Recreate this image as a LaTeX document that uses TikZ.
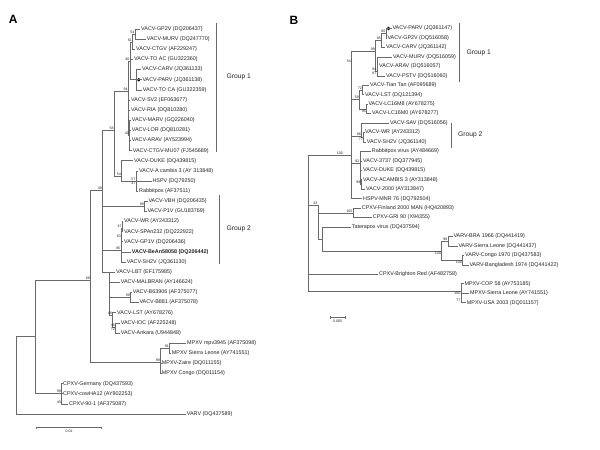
\documentclass[tikz,border=0pt]{standalone}
\usepackage{fontspec}
\setmainfont{Liberation Sans}
\definecolor{branchgray}{HTML}{6A6A6A}
\definecolor{textgray}{HTML}{222222}

\begin{document}
\begin{tikzpicture}[x=1pt, y=-1pt,
  leaf/.style={anchor=west, inner sep=0.6pt, text=textgray, font=\fontsize{5.4}{6}\selectfont},
  boot/.style={anchor=south east, inner sep=0.5pt, text=textgray, font=\fontsize{3.6}{4}\selectfont},
  bootlow/.style={boot, anchor=north east},
  brn/.style={draw=branchgray, line width=0.6pt},
  grpbar/.style={draw=branchgray, line width=0.9pt},
  grp/.style={anchor=west, inner sep=0pt, text=textgray, font=\fontsize{6.7}{8}\selectfont},
  panel/.style={inner sep=0pt, font=\fontsize{12}{14}\selectfont\bfseries}
]
\useasboundingbox (0,0) rectangle (600,450);

\node[panel] (aTitle) at (13.3,19.2) {A};
\node[panel] (bTitle) at (294,20) {B};

% panel A, leaves
\node[leaf] (aGP2V) at (140.4,29.0) {VACV-GP2V (DQ206437)};
\node[leaf] (aMURV) at (146.1,39.1) {VACV-MURV (DQ247770)};
\node[leaf] (aCTGV) at (135.4,49.3) {VACV-CTGV (AF229247)};
\node[leaf] (aTOAC) at (133.4,59.4) {VACV-TO AC (GU322360)};
\node[leaf] (aCARV) at (141.4,69.5) {VACV-CARV (JQ361133)};
\node[leaf] (aPARV) at (141.7,79.7) {VACV-PARV (JQ361138)};
\node[leaf] (aTOCA) at (142.1,89.8) {VACV-TO CA (GU322359)};
\node[leaf] (aSV2) at (130.4,99.9) {VACV-SV2 (EF063677)};
\node[leaf] (aRIA) at (130.4,110.0) {VACV-RIA (DQ810280)};
\node[leaf] (aMARV) at (131.1,120.2) {VACV-MARV (GQ226040)};
\node[leaf] (aLOR) at (131.1,130.3) {VACV-LOR (DQ810281)};
\node[leaf] (aARAV) at (131.1,140.4) {VACV-ARAV (AY523994)};
\node[leaf] (aCTGVMU) at (132.1,150.6) {VACV-CTGV-MU07 (FJ545689)};
\node[leaf] (aDUKE) at (133.4,160.7) {VACV-DUKE (DQ439815)};
\node[leaf] (aAcam) at (138.4,170.8) {VACV-A cambis 3 (AY 313848)};
\node[leaf] (aHSPV) at (151.7,180.9) {HSPV (DQ79250)};
\node[leaf] (aRabbit) at (138.4,191.1) {Rabbitpox (AF37511)};
\node[leaf] (aVBH) at (147.7,201.2) {VACV-VBH (DQ206435)};
\node[leaf] (aP1V) at (146.7,211.3) {VACV-P1V (GU183769)};
\node[leaf] (aWR) at (123.4,221.5) {VACV-WR (AY243312)};
\node[leaf] (aSPAn) at (123.4,231.6) {VACV-SPAn232 (DQ222922)};
\node[leaf] (aGP1V) at (123.4,241.7) {VACV-GP1V (DQ206436)};
\node[leaf, font=\fontsize{5.4}{6}\selectfont\bfseries] (aBeAn) at (131.1,251.9) {VACV-BeAn58058 (DQ206442)};
\node[leaf] (aSH2V) at (126.1,262.0) {VACV-SH2V (JQ361130)};
\node[leaf] (aLBT) at (115.4,272.1) {VACV-LBT (EF175985)};
\node[leaf] (aMALB) at (120.1,282.3) {VACV-MALBRAN (AY146624)};
\node[leaf] (aB639) at (132.1,292.4) {VACV-B63906 (AF375077)};
\node[leaf] (aB881) at (138.7,302.5) {VACV-B881 (AF375078)};
\node[leaf] (aLST) at (116.4,312.6) {VACV-LST (AY678276)};
\node[leaf] (aIOC) at (120.1,322.8) {VACV-IOC (AF225248)};
\node[leaf] (aAnk) at (120.1,332.9) {VACV-Ankara (U944848)};
\node[leaf] (aMpv) at (186.4,343.0) {MPXV mpv3945 (AF375098)};
\node[leaf] (aMSL) at (171.1,353.2) {MPXV Sierra Leone (AY741551)};
\node[leaf] (aZaire) at (161.1,363.3) {MPXV-Zaire (DQ011155)};
\node[leaf] (aCongo) at (161.1,373.4) {MPXV Congo (DQ011154)};
\node[leaf] (aGer) at (62.4,383.6) {CPXV-Germany (DQ437593)};
\node[leaf] (aCow) at (62.4,393.7) {CPXV-cowHA12 (AY902253)};
\node[leaf] (a901) at (68.4,403.8) {CPXV-90-1 (AF375087)};
\node[leaf] (aVARV) at (186.1,413.9) {VARV (DQ437589)};
\fill[black] ([xshift=-3pt]aPARV.west) circle (1.9pt);

% panel A, inner nodes
\coordinate (aN54) at (135,34);
\coordinate (aN61) at (132.5,42);
\coordinate (aN40) at (130,61);
\coordinate (aNca) at (136,79.7);
\coordinate (aN94) at (128.3,91);
\coordinate (aN40b) at (129.5,135.3);
\coordinate (aN58) at (114.3,130);
\coordinate (aN54b) at (121.5,176);
\coordinate (aN57) at (136,181);
\coordinate (aN49) at (102.5,190);
\coordinate (aN99v) at (144.5,206.2);
\coordinate (aN95) at (120.8,250);
\coordinate (aN63) at (121.5,238);
\coordinate (aN47) at (122.3,228);
\coordinate (aNlow) at (109.5,272);
\coordinate (aN99b) at (130.5,297.4);
\coordinate (aN48) at (112.5,315);
\coordinate (aN46) at (115.5,327);
\coordinate (aN91) at (169.5,348);
\coordinate (aNmp) at (160.5,362);
\coordinate (aX1) at (90.7,280);
\coordinate (aNC) at (61.5,393);
\coordinate (aN40c) at (61.5,403.8);
\coordinate (aNI) at (35.7,336);
\coordinate (aRoot) at (16,336);

\draw[brn] (aN54) |- (aGP2V) (aN54) |- (aMURV);
\draw[brn] (aN61) |- (aN54) (aN61) |- (aCTGV);
\draw[brn] (aN40) |- (aN61) (aN40) |- (aTOAC) (aN40) |- (aNca);
\draw[brn] (aNca) |- (aCARV) (aNca) |- (aPARV) (aNca) |- (aTOCA);
\draw[brn] (aN94) |- (aN40) (aN94) |- (aSV2) (aN94) |- (aRIA) (aN94) |- (aN40b);
\draw[brn] (aN40b) |- (aMARV) (aN40b) |- (aLOR) (aN40b) |- (aARAV) (aN40b) |- (aCTGVMU);
\draw[brn] (aN58) |- (aN94) (aN58) |- (aN54b);
\draw[brn] (aN54b) |- (aDUKE) (aN54b) |- (aN57);
\draw[brn] (aN57) |- (aAcam) (aN57) |- (aHSPV) (aN57) |- (aRabbit);
\draw[brn] (aN49) |- (aN58) (aN49) |- (aN99v) (aN49) |- (aN95) (aN49) |- (aNlow);
\draw[brn] (aN99v) |- (aVBH) (aN99v) |- (aP1V);
\draw[brn] (aN95) |- (aN63) (aN95) |- (aBeAn) (aN95) |- (aSH2V);
\draw[brn] (aN63) |- (aN47) (aN63) |- (aGP1V);
\draw[brn] (aN47) |- (aWR) (aN47) |- (aSPAn);
\draw[brn] (aNlow) |- (aLBT) (aNlow) |- (aMALB) (aNlow) |- (aN99b) (aNlow) |- (aN48);
\draw[brn] (aN99b) |- (aB639) (aN99b) |- (aB881);
\draw[brn] (aN48) |- (aLST) (aN48) |- (aN46);
\draw[brn] (aN46) |- (aIOC) (aN46) |- (aAnk);
\draw[brn] (aN91) |- (aMpv) (aN91) |- (aMSL);
\draw[brn] (aNmp) |- (aN91) (aNmp) |- (aZaire) (aNmp) |- (aCongo);
\draw[brn] (aX1) |- (aN49) (aX1) |- (aNmp);
\draw[brn] (aNC) |- (aGer) (aNC) |- (aCow) (aNC) |- (a901);
\draw[brn] (aNI) |- (aX1) (aNI) |- (aNC);
\draw[brn] (aRoot) |- (aNI) (aRoot) |- (aVARV);

\node[boot] (aL54) at (aN54) {54};
\node[boot] (aL61) at (aN61) {61};
\node[boot] (aL40) at (aN40) {40};
\node[boot] (aL94) at (aN94) {94};
\node[boot] (aL40b) at (aN40b) {40};
\node[boot] (aL58) at (aN58) {58};
\node[boot] (aL54b) at (aN54b) {54};
\node[boot] (aL57) at (aN57) {57};
\node[bootlow] (aL47r) at (aN57) {47};
\node[boot] (aL49) at (aN49) {49};
\node[boot] (aL99v) at (aN99v) {99};
\node[boot] (aL95) at (aN95) {95};
\node[boot] (aL63) at (aN63) {63};
\node[boot] (aL47) at (aN47) {47};
\node[boot] (aL99b) at (aN99b) {99};
\node[boot] (aL48) at (aN48) {48};
\node[boot] (aL46) at (aN46) {46};
\node[bootlow] (aL72) at (aN46) {72};
\node[boot] (aL91) at (aN91) {91};
\node[boot] (aL99m) at (aNmp) {99};
\node[boot] (aL69) at (aX1) {69};
\node[boot] (aL99c) at (aNC) {99};
\node[boot] (aL40c) at (aN40c) {40};

\draw[grpbar] (216,23.3) -- (216,151.7);
\node[grp] (aGroupOne) at (226.5,77) {Group 1};
\draw[grpbar] (219.3,195) -- (219.3,263.5);
\node[grp] (aGroupTwo) at (226.5,229) {Group 2};

\coordinate (aS1) at (36.7,427.7);
\coordinate (aS2) at (101.7,427.7);
\draw[brn] (aS1) -- (aS2) ([yshift=1.2pt]aS1) -- ([yshift=-1.2pt]aS1) ([yshift=1.2pt]aS2) -- ([yshift=-1.2pt]aS2);
\node[boot, anchor=north] (aScale) at (69.2,429.5) {0.01};

% panel B, leaves
\node[leaf] (bPARV) at (391.7,28.5) {VACV-PARV (JQ361147)};
\node[leaf] (bGP2V) at (386.7,38.0) {VACV-GP2V (DQ516058)};
\node[leaf] (bCARV) at (385.4,47.4) {VACV-CARV (JQ361142)};
\node[leaf] (bMURV) at (392.4,56.9) {VACV-MURV (DQ516059)};
\node[leaf] (bARAV) at (378.4,66.3) {VACV-ARAV (DQ516057)};
\node[leaf] (bPSTV) at (385.4,75.8) {VACV-PSTV (DQ516060)};
\node[leaf] (bTian) at (369.4,85.2) {VACV-Tian Tan (AF095689)};
\node[leaf] (bLST) at (364.4,94.7) {VACV-LST (DQ121394)};
\node[leaf] (bLC8) at (367.7,104.1) {VACV-LC16M8 (AY678275)};
\node[leaf] (bLC0) at (371.4,113.6) {VACV-LC16M0 (AY678277)};
\node[leaf] (bSAV) at (389.4,123.0) {VACV-SAV (DQ516056)};
\node[leaf] (bWR) at (364.4,132.5) {VACV-WR (AY243312)};
\node[leaf] (bSH2V) at (366.1,141.9) {VACV-SH2V (JQ361140)};
\node[leaf] (bRabbit) at (371.1,151.4) {Rabbitpox virus (AY484669)};
\node[leaf] (b3737) at (362.4,160.8) {VACV-3737 (DQ377945)};
\node[leaf] (bDUKE) at (362.4,170.3) {VACV-DUKE (DQ439815)};
\node[leaf] (bAcam) at (362.4,179.7) {VACV-ACAMBIS 3 (AY313848)};
\node[leaf] (b2000) at (365.4,189.2) {VACV-2000 (AY313847)};
\node[leaf] (bHSPV) at (362.4,198.6) {HSPV-MNR 76 (DQ792504)};
\node[leaf] (bFin) at (361.1,208.1) {CPXV-Finland 2000 MAN (HQ420893)};
\node[leaf] (bGRI) at (372.1,217.5) {CPXV-GRI 90 (X94355)};
\node[leaf] (bTat) at (351.1,227.0) {Taterapox virus (DQ437594)};
\node[leaf] (bBRA) at (452.7,236.4) {VARV-BRA 1966 (DQ441419)};
\node[leaf] (bVSL) at (457.7,245.9) {VARV-Sierra Leone (DQ441437)};
\node[leaf] (bCon) at (464.4,255.3) {VARV-Congo 1970 (DQ437583)};
\node[leaf] (bBang) at (468.7,264.8) {VARV-Bangladesh 1974 (DQ441422)};
\node[leaf] (bBrig) at (378.4,274.2) {CPXV-Brighton Red (AF482758)};
\node[leaf] (bCOP) at (463.7,283.7) {MPXV-COP 58 (AY753185)};
\node[leaf] (bMSL) at (469.4,293.1) {MPXV-Sierra Leone (AY741551)};
\node[leaf] (bUSA) at (466.1,302.6) {MPXV-USA 2003 (DQ011157)};
\fill[black] ([xshift=-3.2pt]bPARV.west) circle (1.9pt);

% panel B, inner nodes
\coordinate (bN60) at (386,33.2);
\coordinate (bN85) at (381.5,40.3);
\coordinate (bN99) at (375.5,51);
\coordinate (bN84) at (377,71);
\coordinate (bN54) at (351.5,63);
\coordinate (bN72) at (362.5,89.9);
\coordinate (bN95) at (366.5,108.8);
\coordinate (bN59) at (359.5,99);
\coordinate (bN86) at (361.5,136);
\coordinate (bN77) at (363.5,137.2);
\coordinate (bN82) at (360,163);
\coordinate (bN99c) at (361,184.4);
\coordinate (bNVAC) at (351.5,111);
\coordinate (bNV) at (351.5,155);
\coordinate (bNCF) at (353,212.8);
\coordinate (bN98) at (448,241);
\coordinate (bN100v) at (462.5,260);
\coordinate (bNVA) at (441.7,251.7);
\coordinate (bNTV) at (322.5,239);
\coordinate (bN43) at (318,205);
\coordinate (bNM) at (461,291);
\coordinate (bN77m) at (461,302.6);
\coordinate (bRoot) at (308,155);

\draw[brn] (bN60) |- (bPARV) (bN60) |- (bGP2V);
\draw[brn] (bN85) |- (bN60) (bN85) |- (bCARV);
\draw[brn] (bN84) |- (bMURV) (bN84) |- (bARAV) (bN84) |- (bPSTV);
\draw[brn] (bN99) |- (bN85) (bN99) |- (bN84);
\draw[brn] (bN72) |- (bTian) (bN72) |- (bLST);
\draw[brn] (bN95) |- (bLC8) (bN95) |- (bLC0);
\draw[brn] (bN59) |- (bN72) (bN59) |- (bN95);
\draw[brn] (bN54) |- (bN99) (bN54) |- (bN59);
\draw[brn] (bN77) |- (bWR) (bN77) |- (bSH2V);
\draw[brn] (bN86) |- (bSAV) (bN86) |- (bN77);
\draw[brn] (bN99c) |- (bAcam) (bN99c) |- (b2000);
\draw[brn] (bN82) |- (bRabbit) (bN82) |- (b3737) (bN82) |- (bDUKE) (bN82) |- (bN99c);
\draw[brn] (bNVAC) |- (bN54) (bNVAC) |- (bN86) (bNVAC) |- (bN82);
\draw[brn] (bNV) |- (bNVAC) (bNV) |- (bHSPV);
\draw[brn] (bNCF) |- (bFin) (bNCF) |- (bGRI);
\draw[brn] (bN98) |- (bBRA) (bN98) |- (bVSL);
\draw[brn] (bN100v) |- (bCon) (bN100v) |- (bBang);
\draw[brn] (bNVA) |- (bN98) (bNVA) |- (bN100v);
\draw[brn] (bNTV) |- (bTat) (bNTV) |- (bNVA);
\draw[brn] (bN43) |- (bNCF) (bN43) |- (bNTV);
\draw[brn] (bNM) |- (bCOP) (bNM) |- (bMSL) (bNM) |- (bUSA);
\draw[brn] (bRoot) |- (bNV) (bRoot) |- (bN43) (bRoot) |- (bBrig) (bRoot) |- (bNM);

\node[boot] (bL60) at (bN60) {60};
\node[boot] (bL85) at (bN85) {85};
\node[boot] (bL99) at (bN99) {99};
\node[boot] (bL84) at (bN84) {84};
\node[bootlow] (bL87) at (bN84) {87};
\node[boot] (bL54) at (bN54) {54};
\node[boot] (bL72) at (bN72) {72};
\node[boot] (bL59) at (bN59) {59};
\node[bootlow] (bL95) at (bN95) {95};
\node[boot] (bL86) at (bN86) {86};
\node[bootlow] (bL77) at (bN77) {77};
\node[boot] (bL82) at (bN82) {82};
\node[boot] (bL99c) at (bN99c) {99};
\node[boot] (bL100) at ([xshift=-8pt]bNV) {100};
\node[boot] (bL100f) at (bNCF) {100};
\node[boot] (bL43) at (bN43) {43};
\node[boot] (bL98) at (bN98) {98};
\node[bootlow] (bL100v) at (bN100v) {100};
\node[bootlow] (bL100a) at (bNVA) {100};
\node[bootlow] (bL100m) at (bNM) {100};
\node[boot] (bL77m) at (bN77m) {77};

\draw[grpbar] (459.3,23.3) -- (459.3,81.7);
\node[grp] (bGroupOne) at (466.5,52.7) {Group 1};
\draw[grpbar] (451,122.7) -- (451,148.3);
\node[grp] (bGroupTwo) at (458,135) {Group 2};

\coordinate (bS1) at (330,317.5);
\coordinate (bS2) at (345,317.5);
\draw[brn] (bS1) -- (bS2) ([yshift=1.2pt]bS1) -- ([yshift=-1.2pt]bS1) ([yshift=1.2pt]bS2) -- ([yshift=-1.2pt]bS2);
\node[boot, anchor=north] (bScale) at (337.5,319.5) {0.005};
\end{tikzpicture}
\end{document}
